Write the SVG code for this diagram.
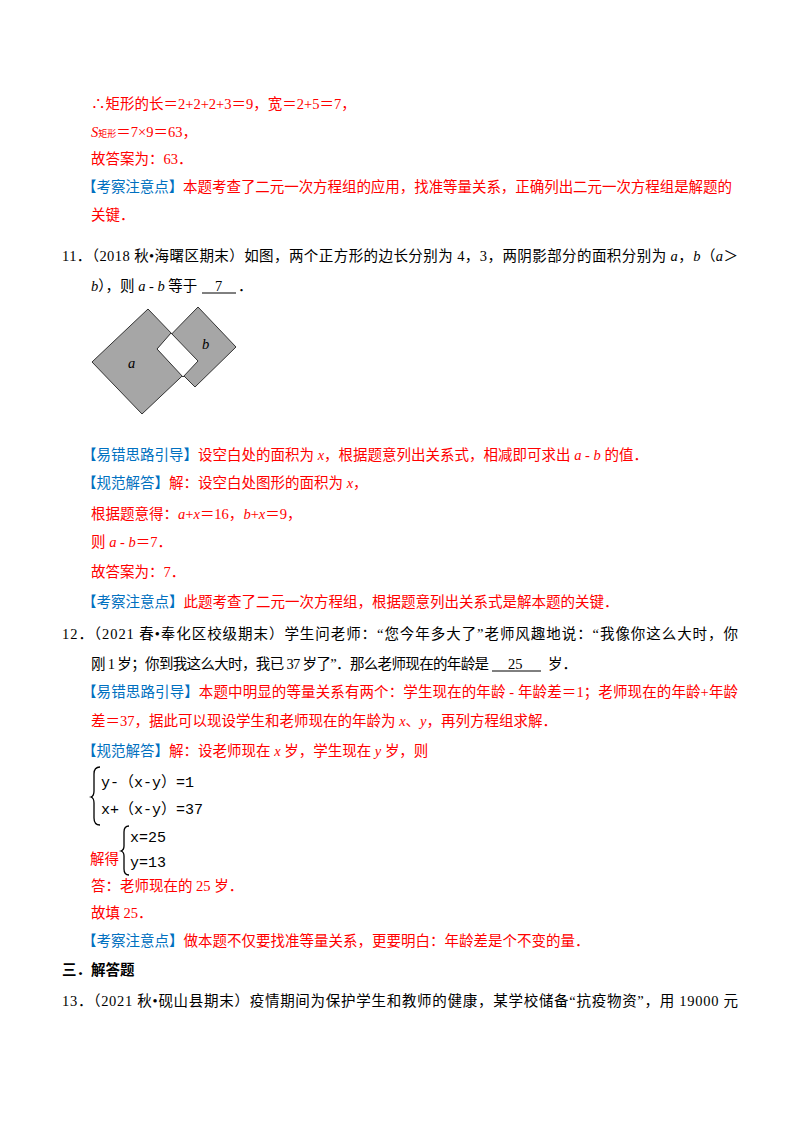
<svg xmlns="http://www.w3.org/2000/svg" width="800" height="1132" viewBox="0 0 800 1132">
<style>
text{font-family:"Liberation Serif","Noto Sans CJK SC",serif;font-size:14.5px;fill:#000}
.r{fill:#ff0000}
.b{fill:#0070c0}
.i{font-style:italic}
.eq{font-family:"Liberation Mono","Noto Sans CJK SC",monospace;font-size:15px;fill:#000}
.sq{fill:#a6a6a6;stroke:#333;stroke-width:1}
</style>
<rect width="800" height="1132" fill="#fff"/>
<text x="91" y="109" class="r">∴矩形的长＝2+2+2+3＝9，宽＝2+5＝7，</text>
<text x="91" y="137" class="r"><tspan class="i">S</tspan><tspan font-size="9">矩形</tspan>＝7×9＝63，</text>
<text x="91" y="164" class="r">故答案为：63．</text>
<text x="82" y="192" textLength="650"><tspan class="b">【考察注意点】</tspan><tspan class="r">本题考查了二元一次方程组的应用，找准等量关系，正确列出二元一次方程组是解题的</tspan></text>
<text x="91" y="220" class="r">关键．</text>
<text x="62" y="261" textLength="676">11．（2018 秋•海曙区期末）如图，两个正方形的边长分别为 4，3，两阴影部分的面积分别为 <tspan class="i">a</tspan>，<tspan class="i">b</tspan>（<tspan class="i">a</tspan>＞</text>
<text x="91" y="291"><tspan class="i">b</tspan>），则 <tspan class="i">a</tspan> - <tspan class="i">b</tspan> 等于</text>
<text x="215" y="291">7</text>
<text x="238" y="291">．</text>
<line x1="202" y1="293" x2="236" y2="293" stroke="#000"/>
<g id="figure">
<polygon class="sq" points="148,309 198,361 142,414 92,362"/>
<polygon class="sq" points="198,307 236,347 195,387 157,349"/>
<polygon points="171,333 198,361 183,377 157,349" fill="#fff" stroke="#333"/>
<text x="128" y="368" class="i" font-size="12">a</text>
<text x="202" y="349" class="i" font-size="12">b</text>
</g>
<text x="82" y="460"><tspan class="b">【易错思路引导】</tspan><tspan class="r">设空白处的面积为 <tspan class="i">x</tspan>，根据题意列出关系式，相减即可求出 <tspan class="i">a</tspan> - <tspan class="i">b</tspan> 的值．</tspan></text>
<text x="82" y="488"><tspan class="b">【规范解答】</tspan><tspan class="r">解：设空白处图形的面积为 <tspan class="i">x</tspan>，</tspan></text>
<text x="91" y="519" class="r">根据题意得：<tspan class="i">a</tspan>+<tspan class="i">x</tspan>＝16，<tspan class="i">b</tspan>+<tspan class="i">x</tspan>＝9，</text>
<text x="91" y="547" class="r">则 <tspan class="i">a</tspan> - <tspan class="i">b</tspan>＝7．</text>
<text x="91" y="577" class="r">故答案为：7．</text>
<text x="82" y="607"><tspan class="b">【考察注意点】</tspan><tspan class="r">此题考查了二元一次方程组，根据题意列出关系式是解本题的关键．</tspan></text>
<text x="62" y="639" textLength="676">12．（2021 春•奉化区校级期末）学生问老师：“您今年多大了”老师风趣地说：“我像你这么大时，你</text>
<text x="91" y="669" textLength="398">刚 1 岁；你到我这么大时，我已 37 岁了”．那么老师现在的年龄是</text>
<text x="508" y="669">25</text>
<text x="548" y="669">岁．</text>
<line x1="492" y1="671" x2="541" y2="671" stroke="#000"/>
<text x="82" y="697" textLength="656"><tspan class="b">【易错思路引导】</tspan><tspan class="r">本题中明显的等量关系有两个：学生现在的年龄 - 年龄差＝1；老师现在的年龄+年龄</tspan></text>
<text x="91" y="726" class="r">差＝37，据此可以现设学生和老师现在的年龄为 <tspan class="i">x</tspan>、<tspan class="i">y</tspan>，再列方程组求解．</text>
<text x="82" y="756"><tspan class="b">【规范解答】</tspan><tspan class="r">解：设老师现在 <tspan class="i">x</tspan> 岁，学生现在 <tspan class="i">y</tspan> 岁，则</tspan></text>
<path d="M100,767 Q94,767 94,774 L94,791 Q94,796 91,797 Q94,798 94,803 L94,818 Q94,825 100,825" fill="none" stroke="#000" stroke-width="1.3"/>
<text x="101" y="787" class="eq">y-（x-y）=1</text>
<text x="101" y="814" class="eq">x+（x-y）=37</text>
<path d="M129,826 Q124,826 124,832 L124,846 Q124,850 121,851 Q124,852 124,856 L124,869 Q124,875 129,875" fill="none" stroke="#000" stroke-width="1.3"/>
<text x="130" y="842" class="eq">x=25</text>
<text x="130" y="867" class="eq">y=13</text>
<text x="90" y="864" class="r">解得</text>
<text x="91" y="891" class="r">答：老师现在的 25 岁．</text>
<text x="91" y="918" class="r">故填 25．</text>
<text x="82" y="946"><tspan class="b">【考察注意点】</tspan><tspan class="r">做本题不仅要找准等量关系，更要明白：年龄差是个不变的量．</tspan></text>
<text x="62" y="975" font-weight="bold">三．解答题</text>
<text x="62" y="1006" textLength="676">13．（2021 秋•砚山县期末）疫情期间为保护学生和教师的健康，某学校储备“抗疫物资”，用 19000 元</text>
</svg>
